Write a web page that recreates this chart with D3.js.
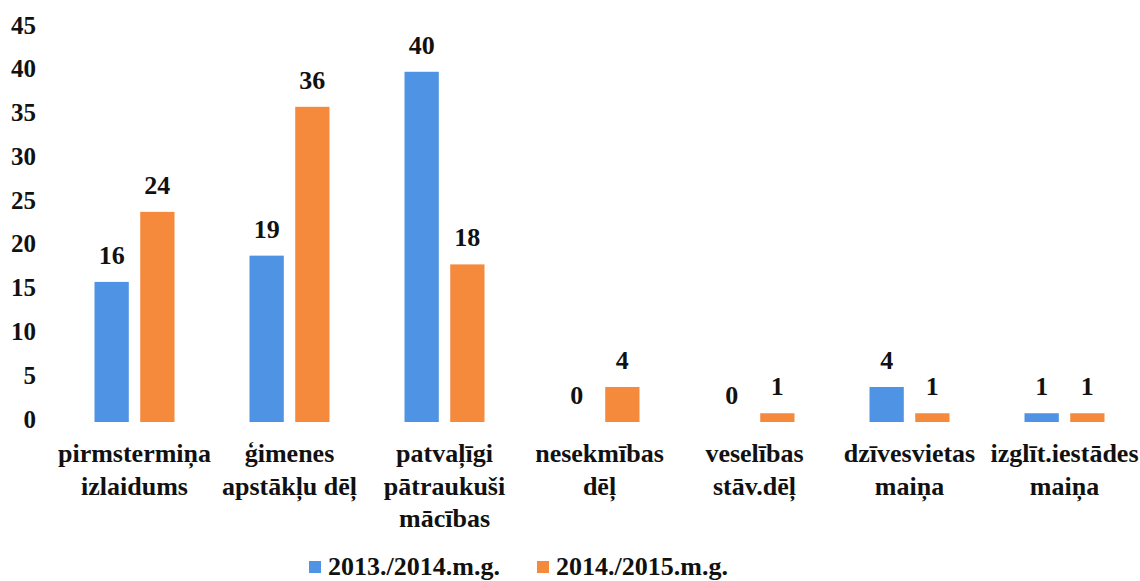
<!DOCTYPE html>
<html>
<head>
<meta charset="utf-8">
<script src="https://cdn.jsdelivr.net/npm/d3@7"></script>
<style>
  body { margin: 0; background: #fff; }
</style>
</head>
<body>
<svg id="chart"></svg>
<script>
// dati
var kategorijas = [
    ["pirmstermiņa", "izlaidums"],
    ["ģimenes", "apstākļu dēļ"],
    ["patvaļīgi", "pātraukuši", "mācības"],
    ["nesekmības", "dēļ"],
    ["veselības", "stāv.dēļ"],
    ["dzīvesvietas", "maiņa"],
    ["izglīt.iestādes", "maiņa"]
];
var serijas = ["2013./2014.m.g.", "2014./2015.m.g."];
var vertibas2013 = [16, 19, 40, 0, 0, 4, 1];
var vertibas2014 = [24, 36, 18, 4, 1, 1, 1];
var yTicks = [0, 5, 10, 15, 20, 25, 30, 35, 40, 45];
var krasas = ["#4f93e4", "#f58a3d"];

var w = 1140, h = 581;
var fonts = "'Liberation Serif', 'Times New Roman', 'DejaVu Serif', serif";

var svg = d3.select("#chart")
    .attr("width", w)
    .attr("height", h)
    .attr("font-family", fonts)
    .attr("font-weight", "bold");

// skalas
var x0 = d3.scaleBand()
    .domain(d3.range(kategorijas.length))
    .range([57, 1142])
    .padding(0);

var x1 = d3.scaleBand()
    .domain(serijas)
    .range([x0.bandwidth() / 2 - 40, x0.bandwidth() / 2 + 40])
    .paddingInner(0.25);

var y = d3.scaleLinear()
    .domain([0, 45])
    .range([422, 28]);

var color = d3.scaleOrdinal().domain(serijas).range(krasas);

// y ass (tikai teksts)
var yAxis = d3.axisLeft(y)
    .tickValues(yTicks)
    .tickSize(0)
    .tickPadding(0);

var gy = svg.append("g")
    .attr("transform", "translate(36,0)")
    .call(yAxis)
    .attr("font-family", fonts)
    .attr("font-size", 25);
gy.select(".domain").remove();
gy.selectAll("text")
    .attr("y", -3)
    .attr("fill", "#111");

// dati joslām
var dati = kategorijas.map(function(k, i) {
    return { i: i, v: [
        { s: serijas[0], val: vertibas2013[i] },
        { s: serijas[1], val: vertibas2014[i] }
    ] };
});

var grupas = svg.selectAll("g.grupa")
    .data(dati)
    .enter().append("g")
    .attr("class", "grupa")
    .attr("transform", function(d) { return "translate(" + x0(d.i) + ",0)"; });

grupas.selectAll("rect")
    .data(function(d) { return d.v; })
    .enter().append("rect")
    .attr("x", function(d) { return x1(d.s); })
    .attr("width", x1.bandwidth())
    .attr("y", function(d) { return y(d.val); })
    .attr("height", function(d) { return y(0) - y(d.val); })
    .attr("fill", function(d) { return color(d.s); });

grupas.selectAll("text.vert")
    .data(function(d) { return d.v; })
    .enter().append("text")
    .attr("class", "vert")
    .attr("x", function(d) { return x1(d.s) + x1.bandwidth() / 2; })
    .attr("y", function(d) { return y(d.val) - 18; })
    .attr("text-anchor", "middle")
    .attr("font-size", 26)
    .attr("fill", "#111")
    .text(function(d) { return d.val; });

// kategoriju nosaukumi
var kat = svg.selectAll("text.kat")
    .data(kategorijas)
    .enter().append("text")
    .attr("class", "kat")
    .attr("text-anchor", "middle")
    .attr("x", function(d, i) { return x0(i) + x0.bandwidth() / 2; })
    .attr("y", 462)
    .attr("font-size", 26)
    .attr("fill", "#111");

kat.selectAll("tspan")
    .data(function(d) { return d; })
    .enter().append("tspan")
    .attr("x", function() { return this.parentNode.getAttribute("x"); })
    .attr("dy", function(d, j) { return j === 0 ? 0 : 32.5; })
    .text(function(d) { return d; });

// legenda
var legX = [309, 537];
var leg = svg.selectAll("g.leg")
    .data(serijas)
    .enter().append("g")
    .attr("class", "leg")
    .attr("transform", function(d, i) { return "translate(" + legX[i] + ",561)"; });

leg.append("rect")
    .attr("width", 12)
    .attr("height", 12)
    .attr("fill", function(d) { return color(d); });

leg.append("text")
    .attr("x", 19)
    .attr("y", 14)
    .attr("font-size", 26)
    .attr("fill", "#111")
    .text(function(d) { return d; });
</script>
</body>
</html>
